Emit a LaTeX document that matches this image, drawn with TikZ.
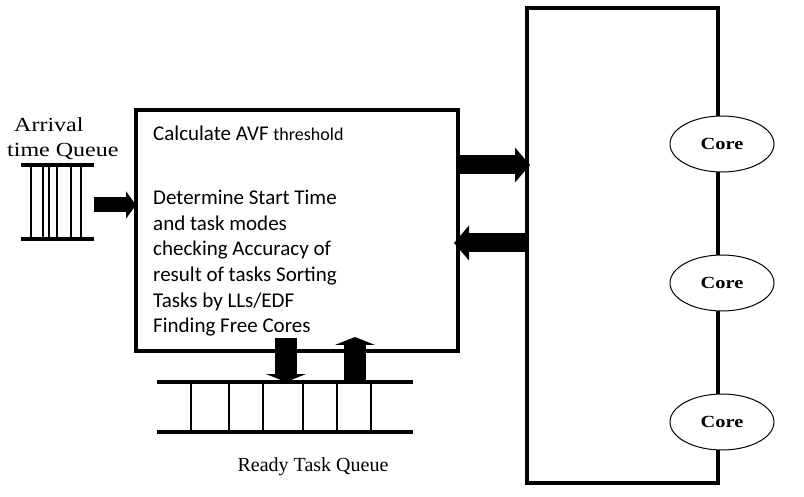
\documentclass[tikz,border=0pt]{standalone}
\usepackage{fontspec}
\setmainfont{Liberation Serif}
\newfontfamily\calib{Carlito}
\newfontfamily\wideserif[FakeStretch=1.2]{Liberation Serif}
\usetikzlibrary{arrows.meta,shapes.geometric}
\begin{document}
\begin{tikzpicture}[x=1pt,y=-1pt,
  frame/.style={draw, line width=4pt, inner sep=0pt, outer sep=0pt},
  area/.style={inner sep=0pt, outer sep=0pt},
  bar/.style={line width=4pt},
  slot/.style={line width=1.8pt},
  core/.style={ellipse, draw, fill=white, line width=1pt, minimum width=104pt, minimum height=56pt, inner sep=0pt, font=\wideserif\bfseries\fontsize{17}{19}\selectfont},
  arrsmall/.style={line width=15pt, -{Triangle[length=10pt, width=27pt]}},
  arrbig/.style={line width=19pt, -{Triangle[length=15pt, width=34pt]}},
  arrvert/.style={line width=22pt, -{Triangle[length=8pt, width=40pt]}},
  sanslabel/.style={inner sep=0pt, font=\calib\fontsize{21}{25.6}\selectfont},
  seriflabel/.style={inner sep=0pt, font=\wideserif\fontsize{20}{22}\selectfont}
]
\fill[white] (0,0) rectangle (804,497);
\useasboundingbox (0,0) rectangle (804,497);

% processor rectangle
\node[frame, line width=4.5pt, minimum width=191pt, minimum height=475pt] (cpu) at (622.5,245.5) {};

% scheduler box
\node[frame, minimum width=322pt, minimum height=241pt] (box) at (297,230.5) {};
\node[sanslabel, anchor=base west] (t1) at (153,141) {Calculate AVF {\fontsize{18}{20}\selectfont threshold}};
\node[sanslabel, anchor=north west, align=left] (t2) at (153,190) {Determine Start Time\\and task modes\\checking Accuracy of\\result of tasks Sorting\\Tasks by LLs/EDF\\Finding Free Cores};

% arrival queue
\node[area, minimum width=73pt, minimum height=74pt] (aq) at (57.5,202) {};
\draw[bar] (aq.north west) -- (aq.north east);
\draw[bar] (aq.south west) -- (aq.south east);
\foreach \x in {31,43,49,57,71,81} \draw[slot] (\x,165) -- (\x,239);
\node[seriflabel, anchor=base west] (l1) at (14,132) {Arrival};
\node[seriflabel, anchor=base west] (l2) at (7,157) {time Queue};

% ready queue
\node[area, minimum width=256pt, minimum height=50pt] (rq) at (285,407) {};
\draw[bar] (rq.north west) -- (rq.north east);
\draw[bar] (rq.south west) -- (rq.south east);
\foreach \x in {191,229,263,303,337,371} \draw[slot] (\x,382) -- (\x,432);
\node[inner sep=0pt, anchor=base, font=\fontsize{20}{22}\selectfont] (l3) at (313,471) {Ready Task Queue};

% arrows
\coordinate (ya) at (0,205);
\coordinate (yr) at (0,165);
\coordinate (yl) at (0,243);
\coordinate (dn) at (286,338);
\coordinate (up) at (355,337);
\draw[arrsmall] (aq.east |- ya) -- (box.west |- ya);
\draw[arrbig] (box.east |- yr) -- ([xshift=3pt]cpu.west |- yr);
\draw[arrbig] (cpu.west |- yl) -- ([xshift=-4pt]box.east |- yl);
\draw[arrvert] (dn) -- (dn |- rq.north);
\draw[arrvert] (up |- rq.north) -- (up);

% cores
\node[core] (c1) at (722,144) {Core};
\node[core] (c2) at (722,283) {Core};
\node[core] (c3) at (722,422) {Core};
\end{tikzpicture}
\end{document}
